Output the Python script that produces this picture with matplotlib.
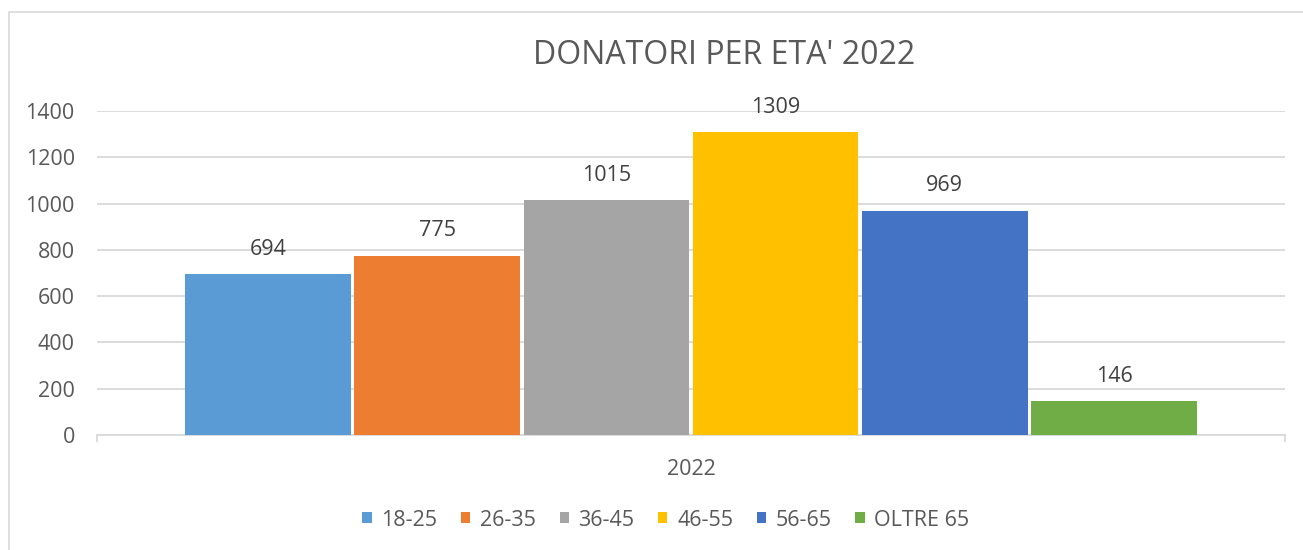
import matplotlib.pyplot as plt
from matplotlib.patches import Rectangle

# data
age_groups = ["18-25", "26-35", "36-45", "46-55", "56-65", "OLTRE 65"]
donors = [694, 775, 1015, 1309, 969, 146]
year_label = "2022"
y_ticks = [0, 200, 400, 600, 800, 1000, 1200, 1400]

colors = ["#5B9BD5", "#ED7D31", "#A5A5A5", "#FFC000", "#4472C4", "#70AD47"]
grid_col = "#D9D9D9"
text_col = "#595959"
label_col = "#404040"

plt.rcParams["font.family"] = ["Open Sans", "DejaVu Sans"]

W, H = 1303, 550
fig = plt.figure(figsize=(W / 100, H / 100), dpi=100)
ax = fig.add_axes([97 / W, 1 - 435 / H, (1285 - 97) / W, (435 - 111) / H])

slot = 0.1424
bar_w = 0.1395
bars = []
for i, (grp, val) in enumerate(zip(age_groups, donors)):
    x = (i - 2.5) * slot
    b = ax.bar(x, val, width=bar_w, color=colors[i], label=grp, zorder=3)
    bars.append(b)
    ax.annotate(str(val), (x, val), xytext=(0, 18), textcoords="offset points",
                ha="center", va="center", fontsize=15.5, color=label_col)

ax.set_xlim(-0.5, 0.5)
ax.set_ylim(0, 1400)
ax.set_yticks(y_ticks)
ax.set_yticklabels([str(t) for t in y_ticks])
ax.set_xticks([0])
ax.set_xticklabels([year_label])
ax.set_xticks([-0.5, 0.5], minor=True)
ax.tick_params(axis="y", length=0, pad=16, labelsize=15.5, labelcolor=text_col)
ax.tick_params(axis="x", which="major", length=0, pad=17, labelsize=15.5, labelcolor=text_col)
ax.tick_params(axis="x", which="minor", length=5, width=1.3, color=grid_col)

ax.yaxis.grid(True, color=grid_col, linewidth=1.3, zorder=0)
for s in ["top", "right", "left"]:
    ax.spines[s].set_visible(False)
ax.spines["bottom"].set_color(grid_col)
ax.spines["bottom"].set_linewidth(1.3)

fig.text(724 / W, 1 - 56 / H, "DONATORI PER ETA' 2022", ha="center", va="center",
         fontsize=23, color=text_col)

fig.legend(handles=[b[0] for b in bars], labels=age_groups, loc="center",
           bbox_to_anchor=(666 / W, 1 - 520 / H), ncol=6, frameon=False,
           fontsize=15.5, labelcolor=text_col, handlelength=0.43, handleheight=0.43,
           handletextpad=0.45, columnspacing=1.1)

# light chart border
fig.add_artist(Rectangle((9 / W, -0.1), 1.5, 1.1 - 12 / H, transform=fig.transFigure,
                         fill=False, edgecolor=grid_col, linewidth=1.2))

fig.savefig("out.png", dpi=100)
